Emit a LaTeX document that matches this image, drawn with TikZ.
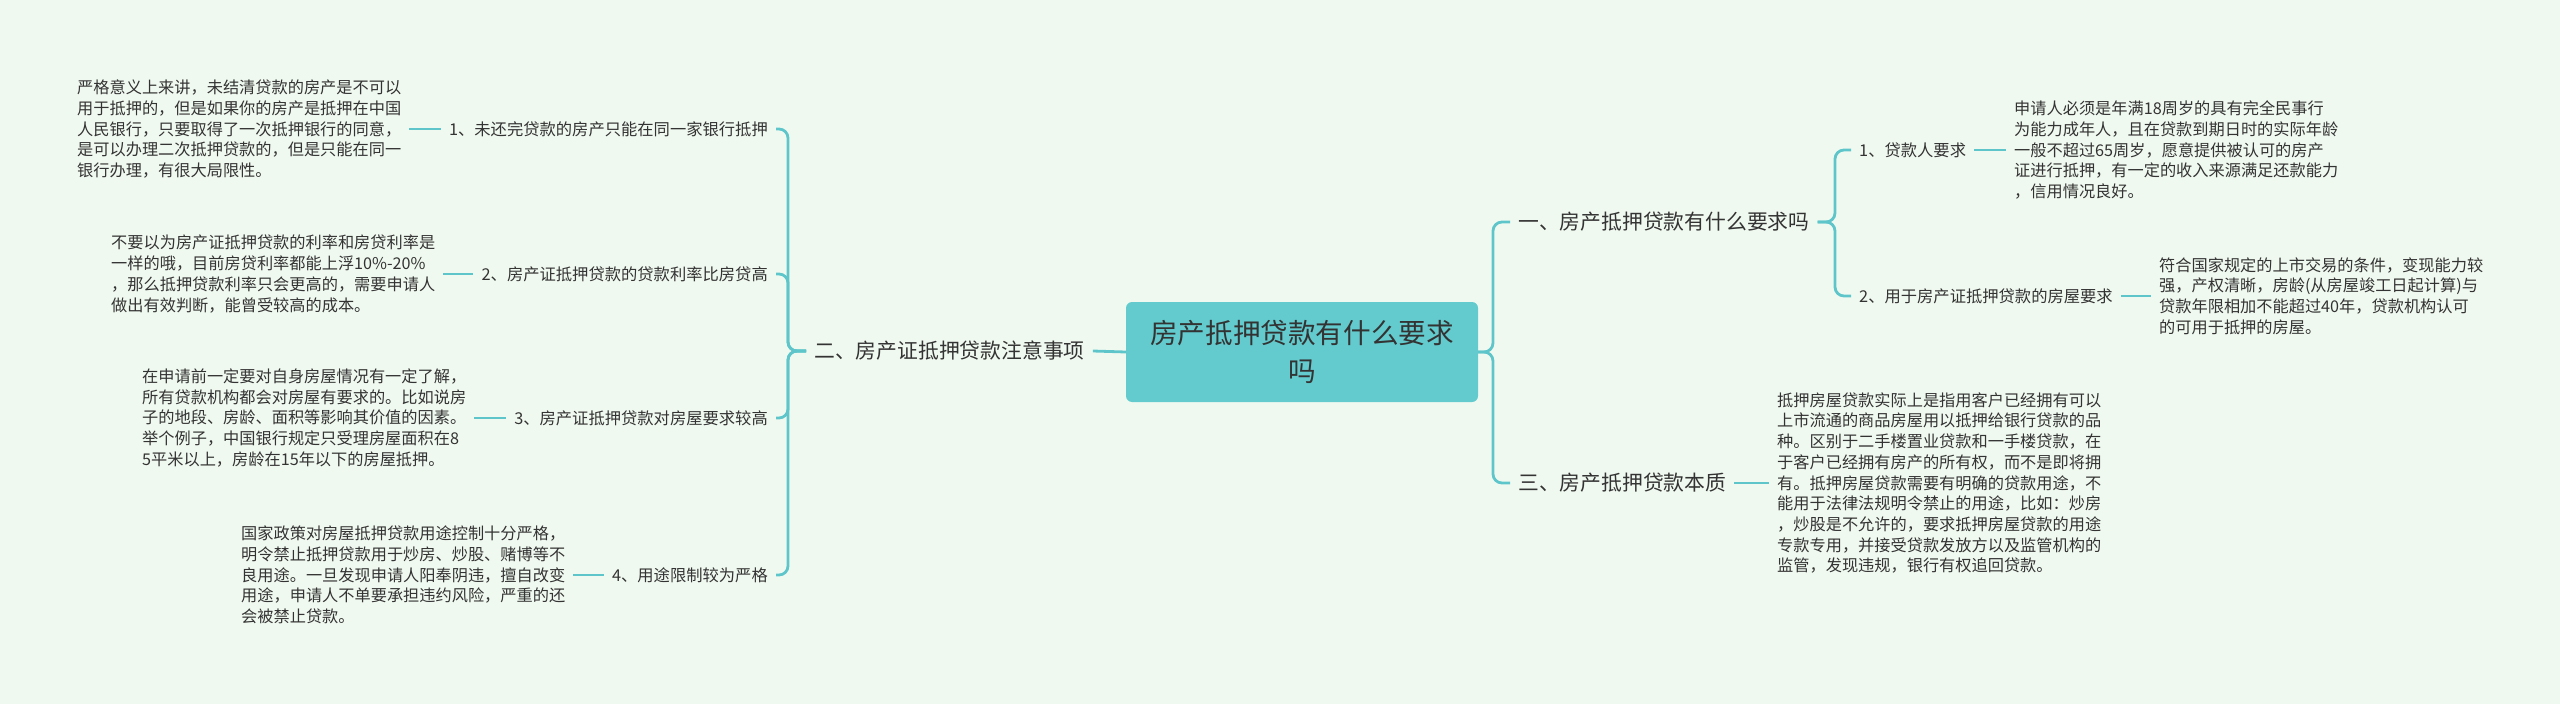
\documentclass[tikz,border=0pt]{standalone}
\usepackage{fontspec}
\newfontfamily\cjk{Noto Sans CJK SC}
\definecolor{bgc}{RGB}{240,249,240}
\definecolor{linec}{RGB}{94,198,202}
\definecolor{boxc}{RGB}{99,203,206}
\definecolor{txt}{RGB}{51,51,51}
\begin{document}
\begin{tikzpicture}[x=1pt,y=-1pt,
  conn/.style={draw=linec, line width=2.8pt, rounded corners=9pt},
  body/.style={font=\cjk\fontsize{16.2}{20.7}\selectfont, text=txt, align=left, inner xsep=8pt, inner ysep=2pt},
  lab/.style={font=\cjk\fontsize{16.3}{20}\selectfont, text=txt, inner xsep=8pt, inner ysep=2pt},
  mainlab/.style={font=\cjk\fontsize{20.8}{25}\selectfont, text=txt, inner xsep=8pt, inner ysep=2pt},
  rootbox/.style={font=\cjk\fontsize{27.6}{38}\selectfont, text=txt, align=center, fill=boxc, rounded corners=6pt, minimum width=352pt, minimum height=100pt, inner sep=0pt}]
\useasboundingbox (0,0) rectangle (2560,704);
\fill[bgc] (0,0) rectangle (2560,704);

% root
\node[rootbox] (c) at (1302,352) {房产抵押贷款有什么要求\\吗};

% left main branch
\node[mainlab, anchor=west] (two) at (806,351) {二、房产证抵押贷款注意事项};

\node[lab, anchor=east] (L1) at (776,129) {1、未还完贷款的房产只能在同一家银行抵押};
\node[lab, anchor=east] (L2) at (776,274) {2、房产证抵押贷款的贷款利率比房贷高};
\node[lab, anchor=east] (L3) at (776,418) {3、房产证抵押贷款对房屋要求较高};
\node[lab, anchor=east] (L4) at (776,575) {4、用途限制较为严格};

\node[body, anchor=west] (T1) at (69,129) {严格意义上来讲，未结清贷款的房产是不可以\\
用于抵押的，但是如果你的房产是抵押在中国\\
人民银行，只要取得了一次抵押银行的同意，\\
是可以办理二次抵押贷款的，但是只能在同一\\
银行办理，有很大局限性。};
\node[body, anchor=west] (T2) at (103,274) {不要以为房产证抵押贷款的利率和房贷利率是\\
一样的哦，目前房贷利率都能上浮10\%-20\%\\
，那么抵押贷款利率只会更高的，需要申请人\\
做出有效判断，能曾受较高的成本。};
\node[body, anchor=west] (T3) at (134,418) {在申请前一定要对自身房屋情况有一定了解，\\
所有贷款机构都会对房屋有要求的。比如说房\\
子的地段、房龄、面积等影响其价值的因素。\\
举个例子，中国银行规定只受理房屋面积在8\\
5平米以上，房龄在15年以下的房屋抵押。};
\node[body, anchor=west] (T4) at (233,575) {国家政策对房屋抵押贷款用途控制十分严格，\\
明令禁止抵押贷款用于炒房、炒股、赌博等不\\
良用途。一旦发现申请人阳奉阴违，擅自改变\\
用途，申请人不单要承担违约风险，严重的还\\
会被禁止贷款。};

% right main branches
\node[mainlab, anchor=west] (one) at (1510,222) {一、房产抵押贷款有什么要求吗};
\node[mainlab, anchor=west] (three) at (1510,483) {三、房产抵押贷款本质};

\node[lab, anchor=west] (R1) at (1851,150) {1、贷款人要求};
\node[lab, anchor=west] (R2) at (1851,296) {2、用于房产证抵押贷款的房屋要求};

\node[body, anchor=west] (R1t) at (2006,150) {申请人必须是年满18周岁的具有完全民事行\\
为能力成年人，且在贷款到期日时的实际年龄\\
一般不超过65周岁，愿意提供被认可的房产\\
证进行抵押，有一定的收入来源满足还款能力\\
，信用情况良好。};
\node[body, anchor=west] (R2t) at (2151,296) {符合国家规定的上市交易的条件，变现能力较\\
强，产权清晰，房龄(从房屋竣工日起计算)与\\
贷款年限相加不能超过40年，贷款机构认可\\
的可用于抵押的房屋。};
\node[body, anchor=west] (R3t) at (1769,483) {抵押房屋贷款实际上是指用客户已经拥有可以\\
上市流通的商品房屋用以抵押给银行贷款的品\\
种。区别于二手楼置业贷款和一手楼贷款，在\\
于客户已经拥有房产的所有权，而不是即将拥\\
有。抵押房屋贷款需要有明确的贷款用途，不\\
能用于法律法规明令禁止的用途，比如：炒房\\
，炒股是不允许的，要求抵押房屋贷款的用途\\
专款专用，并接受贷款发放方以及监管机构的\\
监管，发现违规，银行有权追回贷款。};

% junction coordinates
\coordinate (lj) at (788,351);
\coordinate (rj) at (1493,352);
\coordinate (sj) at (1835,222);

% connectors
\draw[conn] (c.west) -- (two.east);
\draw[conn] (two.west) -- (lj) |- (L1.east);
\draw[conn] (two.west) -- (lj) |- (L2.east);
\draw[conn] (two.west) -- (lj) |- (L3.east);
\draw[conn] (two.west) -- (lj) |- (L4.east);
\draw[conn] (T1.east) -- (L1.west);
\draw[conn] (T2.east) -- (L2.west);
\draw[conn] (T3.east) -- (L3.west);
\draw[conn] (T4.east) -- (L4.west);

\draw[conn] (c.east) -- (rj) |- (one.west);
\draw[conn] (c.east) -- (rj) |- (three.west);
\draw[conn] (one.east) -- (sj) |- (R1.west);
\draw[conn] (one.east) -- (sj) |- (R2.west);
\draw[conn] (R1.east) -- (R1t.west);
\draw[conn] (R2.east) -- (R2t.west);
\draw[conn] (three.east) -- (R3t.west);
\end{tikzpicture}
\end{document}
